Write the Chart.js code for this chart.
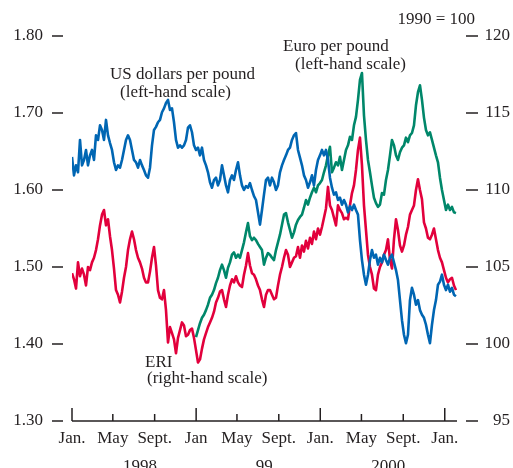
<!DOCTYPE html>
<html>
<head>
<meta charset="utf-8">
<script src="https://cdn.jsdelivr.net/npm/chart.js@4"></script>
<style>
  html, body { margin: 0; padding: 0; background: #fff; }
  canvas { display: block; }
</style>
</head>
<body>
<canvas id="myChart" width="513" height="468"></canvas>
<script>
// samples are roughly weekly, measured in days from 1 Jan 1998
const dayStep = 5.88;
const euroStart = 62; // euro series begins Jan 1999

const usdPerPound = [
  1.643, 1.619, 1.632, 1.623, 1.665, 1.632, 1.639, 1.652, 1.632, 1.645,
  1.652, 1.639, 1.671, 1.665, 1.684, 1.678, 1.665, 1.691, 1.671, 1.661,
  1.652, 1.636, 1.626, 1.632, 1.629, 1.639, 1.652, 1.665, 1.671, 1.665,
  1.652, 1.639, 1.636, 1.629, 1.639, 1.632, 1.626, 1.619, 1.616, 1.629,
  1.658, 1.678, 1.682, 1.688, 1.691, 1.701, 1.706, 1.713, 1.717, 1.704,
  1.706, 1.688, 1.665, 1.655, 1.658, 1.655, 1.658, 1.665, 1.681, 1.684,
  1.675, 1.658, 1.652, 1.655, 1.645, 1.655, 1.639, 1.632, 1.623, 1.610,
  1.603, 1.613, 1.616, 1.606, 1.613, 1.632, 1.619, 1.606, 1.597, 1.613,
  1.619, 1.613, 1.626, 1.636, 1.619, 1.606, 1.600, 1.605, 1.603, 1.609,
  1.600, 1.592, 1.587, 1.571, 1.555, 1.574, 1.594, 1.613, 1.616, 1.606,
  1.616, 1.610, 1.600, 1.606, 1.623, 1.632, 1.639, 1.645, 1.652, 1.655,
  1.665, 1.671, 1.674, 1.652, 1.642, 1.632, 1.619, 1.613, 1.603, 1.610,
  1.619, 1.606, 1.626, 1.639, 1.645, 1.652, 1.645, 1.652, 1.639, 1.616,
  1.603, 1.594, 1.597, 1.587, 1.590, 1.581, 1.587, 1.581, 1.571, 1.579,
  1.574, 1.581, 1.574, 1.568, 1.535, 1.509, 1.490, 1.477, 1.490, 1.509,
  1.522, 1.512, 1.516, 1.503, 1.512, 1.506, 1.516, 1.509, 1.503, 1.512,
  1.516, 1.506, 1.496, 1.483, 1.457, 1.431, 1.412, 1.401, 1.412, 1.457,
  1.473, 1.464, 1.451, 1.457, 1.444, 1.438, 1.434, 1.425, 1.412, 1.401,
  1.425, 1.444, 1.457, 1.477, 1.481, 1.490, 1.477, 1.470, 1.477, 1.468,
  1.473, 1.464, 1.462
];

const euroPerPound = [
  1.409, 1.418, 1.427, 1.434, 1.438, 1.444, 1.451, 1.460, 1.464, 1.470,
  1.479, 1.486, 1.496, 1.503, 1.496, 1.486, 1.499, 1.506, 1.516, 1.519,
  1.512, 1.516, 1.512, 1.522, 1.532, 1.545, 1.557, 1.540, 1.535, 1.538,
  1.535, 1.530, 1.526, 1.522, 1.503, 1.512, 1.518, 1.516, 1.512, 1.509,
  1.522, 1.532, 1.542, 1.555, 1.568, 1.570, 1.558, 1.548, 1.538, 1.545,
  1.555, 1.561, 1.565, 1.568, 1.577, 1.587, 1.581, 1.590, 1.597, 1.603,
  1.597, 1.606, 1.609, 1.613, 1.623, 1.632, 1.645, 1.656, 1.623, 1.629,
  1.636, 1.632, 1.643, 1.626, 1.639, 1.652, 1.658, 1.669, 1.665, 1.684,
  1.695, 1.717, 1.743, 1.752, 1.697, 1.665, 1.639, 1.623, 1.606, 1.590,
  1.583, 1.578, 1.581, 1.596, 1.594, 1.613, 1.626, 1.645, 1.665, 1.658,
  1.645, 1.639, 1.649, 1.655, 1.658, 1.668, 1.662, 1.671, 1.674, 1.684,
  1.710, 1.727, 1.736, 1.717, 1.694, 1.678, 1.671, 1.675, 1.665, 1.655,
  1.645, 1.636, 1.616, 1.600, 1.587, 1.574, 1.581, 1.574, 1.578, 1.571,
  1.570
];

const eri = [
  104.6, 104.2, 103.6, 105.3, 104.4, 104.9, 104.5, 103.8, 105.0, 104.8,
  105.3, 105.6, 106.1, 106.8, 107.7, 108.4, 108.7, 107.7, 108.1, 107.0,
  106.1, 104.9, 103.5, 103.2, 102.7, 103.4, 104.3, 105.0, 106.1, 106.8,
  107.3, 106.8, 106.1, 105.6, 105.3, 104.9, 104.3, 104.0, 104.0, 104.7,
  105.6, 106.3, 105.1, 103.5, 103.0, 102.9, 103.5, 102.2, 100.1, 101.1,
  100.7, 100.3, 99.4, 100.4, 100.9, 101.4, 101.2, 100.5, 100.6, 100.9,
  101.0, 100.4, 99.6, 98.8, 99.0, 99.7, 100.3, 100.7, 101.1, 101.4,
  101.7, 102.1, 102.7, 103.0, 103.4, 103.5, 102.9, 102.4, 103.2, 103.8,
  104.2, 104.0, 104.4, 104.0, 103.8, 103.7, 104.5, 105.1, 105.9, 105.1,
  104.6, 104.5, 104.2, 103.8, 103.5, 102.9, 102.4, 103.2, 103.5, 103.5,
  103.2, 102.9, 103.0, 103.8, 104.5, 105.0, 105.6, 106.1, 105.8, 105.0,
  105.3, 105.6, 105.7, 106.3, 105.6, 106.4, 106.0, 106.7, 106.2, 106.9,
  106.5, 107.3, 106.8, 107.5, 107.1, 107.6, 108.2, 108.8, 110.2, 109.0,
  108.7, 108.2, 107.7, 109.0, 108.7, 108.5, 108.1, 108.2, 108.1, 109.0,
  109.8, 110.3, 111.3, 112.6, 113.4, 111.6, 109.0, 107.4, 105.8, 105.0,
  104.5, 103.6, 103.5, 104.5, 105.0, 105.3, 105.8, 106.1, 106.8, 105.5,
  104.9, 106.8, 108.1, 107.4, 106.4, 106.0, 106.4, 107.1, 107.6, 108.4,
  108.7, 109.0, 110.0, 110.7, 110.0, 109.4, 107.9, 107.5, 106.9, 106.8,
  107.1, 107.5, 106.8, 106.1, 105.6, 105.3, 104.8, 104.3, 104.0, 104.2,
  104.3, 103.8, 103.5
];

const leftTicks = [1.30, 1.40, 1.50, 1.60, 1.70, 1.80];
const rightTicks = [95, 100, 105, 110, 115, 120];
const monthTicks = [0, 120, 243, 365, 485, 608, 730, 851, 974, 1096];
const monthLabels = ['Jan.', 'May', 'Sept.', 'Jan', 'May', 'Sept.', 'Jan.', 'May', 'Sept.', 'Jan.'];
const yearLabels = ['1998', '99', '2000'];
const yearDays = [200, 565, 930];

const FONT = '"Liberation Serif", "DejaVu Serif", serif';
const INK = '#231f20';

// axis lines, tick marks and series labels
const axisDecor = {
  id: 'axisDecor',
  afterDraw(chart) {
    const { ctx, chartArea, scales } = chart;
    const xs = scales.x, yl = scales.yl, yr = scales.yr;
    ctx.save();
    ctx.strokeStyle = INK;
    ctx.fillStyle = INK;
    ctx.lineWidth = 1.5;

    // bottom axis
    const yb = chartArea.bottom;
    ctx.beginPath();
    ctx.moveTo(chartArea.left, yb);
    ctx.lineTo(chartArea.right, yb);
    ctx.stroke();

    ctx.font = '17px ' + FONT;
    ctx.textAlign = 'center';
    ctx.textBaseline = 'middle';
    monthTicks.forEach((d, i) => {
      const px = xs.getPixelForValue(d);
      const len = monthLabels[i].startsWith('Jan') ? 13 : 7;
      ctx.beginPath();
      ctx.moveTo(px, yb);
      ctx.lineTo(px, yb - len);
      ctx.stroke();
      ctx.fillText(monthLabels[i], px, yb + 18);
    });
    ctx.textBaseline = 'top';
    yearLabels.forEach((t, i) => {
      ctx.fillText(t, xs.getPixelForValue(yearDays[i]), yb + 37);
    });

    // left scale
    ctx.textAlign = 'right';
    ctx.textBaseline = 'middle';
    leftTicks.forEach(v => {
      const py = yl.getPixelForValue(v);
      ctx.beginPath();
      ctx.moveTo(chartArea.left - 20, py);
      ctx.lineTo(chartArea.left - 9, py);
      ctx.stroke();
      ctx.fillText(v.toFixed(2), chartArea.left - 29, py);
    });

    // right scale
    rightTicks.forEach(v => {
      const py = yr.getPixelForValue(v);
      ctx.beginPath();
      ctx.moveTo(chartArea.right + 9, py);
      ctx.lineTo(chartArea.right + 21, py);
      ctx.stroke();
      ctx.fillText(String(v), chartArea.right + 53, py);
    });
    ctx.fillText('1990 = 100', chartArea.right + 18, 20);

    // series labels
    ctx.textAlign = 'left';
    ctx.fillText('US dollars per pound', 110, 75);
    ctx.fillText('(left-hand scale)', 120, 93);
    ctx.fillText('Euro per pound', 283, 47);
    ctx.fillText('(left-hand scale)', 295, 65);
    ctx.fillText('ERI', 145, 363);
    ctx.fillText('(right-hand scale)', 147, 379);
    ctx.restore();
  }
};

const data = {
  datasets: [
    {
      label: 'US dollars per pound',
      data: usdPerPound.map((v, i) => ({ x: i * dayStep, y: v })),
      borderColor: '#0066b3',
      yAxisID: 'yl'
    },
    {
      label: 'ERI',
      data: eri.map((v, i) => ({ x: i * dayStep, y: v })),
      borderColor: '#e2003c',
      yAxisID: 'yr'
    },
    {
      label: 'Euro per pound',
      data: euroPerPound.map((v, i) => ({ x: (i + euroStart) * dayStep, y: v })),
      borderColor: '#00876a',
      yAxisID: 'yl'
    }
  ]
};

const config = {
  type: 'line',
  data: data,
  options: {
    responsive: false,
    animation: false,
    layout: { padding: { left: 72, right: 56, top: 36, bottom: 47 } },
    elements: {
      line: { borderWidth: 2.6, tension: 0, borderJoinStyle: 'round' },
      point: { radius: 0 }
    },
    scales: {
      x: { type: 'linear', min: 0, max: 1132, display: false },
      yl: { type: 'linear', position: 'left', min: 1.30, max: 1.80, display: false },
      yr: { type: 'linear', position: 'right', min: 95, max: 120, display: false }
    },
    plugins: {
      legend: { display: false },
      tooltip: { enabled: false }
    }
  },
  plugins: [axisDecor]
};

const myChart = new Chart(document.getElementById('myChart'), config);
</script>
</body>
</html>
